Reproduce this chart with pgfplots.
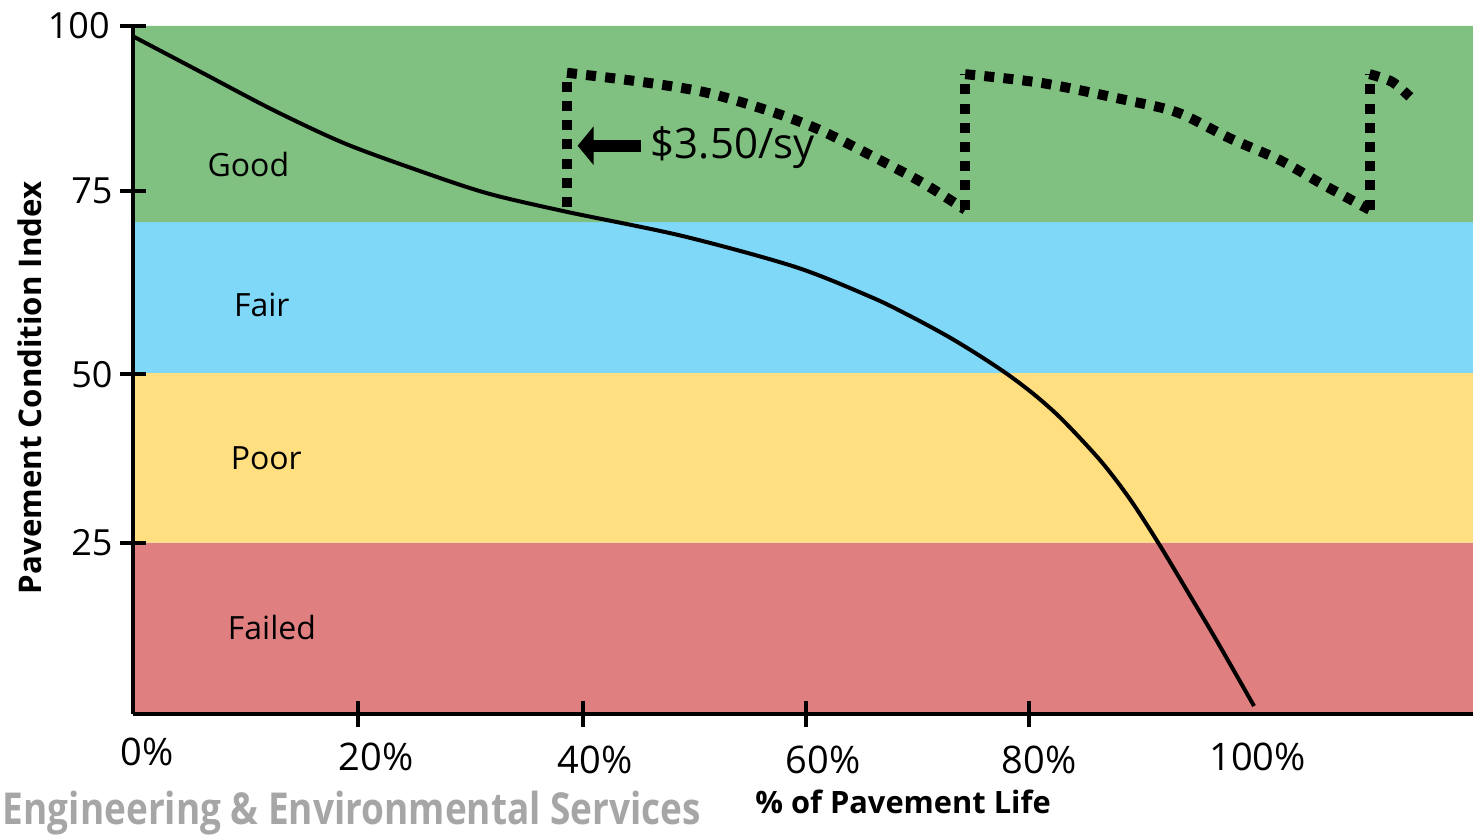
\documentclass[border=0pt]{standalone}
\usepackage{pgfplots}
\pgfplotsset{compat=1.18}
\usepackage{fontspec}
\setmainfont{Open Sans}
\usetikzlibrary{arrows.meta}
\definecolor{cgood}{HTML}{80C080}
\definecolor{cfair}{HTML}{80D8F8}
\definecolor{cpoor}{HTML}{FFDF80}
\definecolor{cfail}{HTML}{E07F80}
\definecolor{wmark}{HTML}{A6A6A6}
\begin{document}
\begin{tikzpicture}
\begin{axis}[
  at={(0,0)}, anchor=south west,
  scale only axis, width=670pt, height=344pt,
  xmin=0, xmax=119.64, ymin=0, ymax=100,
  axis x line=bottom, axis y line=left,
  axis line style={-, line width=2pt, black},
  xtick={20.1,40.2,60.1,80.0}, xticklabels={},
  ytick={24.9,49.4,76,100}, yticklabels={},
  tick align=center, major tick length=13pt,
  tick style={black, line width=2pt},
  axis on top, clip=false,
]
% bands
\addplot[draw=none, fill=cfail] coordinates {(0,0)(119.64,0)(119.64,24.9)(0,24.9)(0,0)};
\addplot[draw=none, fill=cpoor] coordinates {(0,24.9)(119.64,24.9)(119.64,49.6)(0,49.6)(0,24.9)};
\addplot[draw=none, fill=cfair] coordinates {(0,49.6)(119.64,49.6)(119.64,71.5)(0,71.5)(0,49.6)};
\addplot[draw=none, fill=cgood] coordinates {(0,71.5)(119.64,71.5)(119.64,100)(0,100)(0,71.5)};
% deterioration curve
\addplot[black, line width=2pt, smooth] coordinates {
 (0,98.5)(6.07,93.3)(12.5,87.8)(18.8,83.0)(25.3,79.1)(31.6,75.7)(38.7,73.0)
 (49.0,69.5)(59.1,65.0)(65.89,60.61)(69.38,57.85)(72.77,54.87)(75.63,52.03)
 (78.21,49.23)(80.63,46.21)(83.04,42.67)(86.43,36.73)(89.02,31.21)(91.52,24.93)
 (94.11,17.92)(96.70,10.81)(100.09,1.16)};
% preservation cycles (dotted)
\pgfplotsset{dotline/.style={black, line width=5pt, dash pattern=on 5pt off 4.6pt}}
\addplot[dotline] coordinates {(38.75,73.7)(38.75,93.2)};
\addplot[dotline, smooth] coordinates {
 (38.75,93.2)(45.3,91.9)(51.25,90.3)(57.1,87.5)(61.3,84.9)(66.1,81.0)(70.5,77.2)(74.3,73.3)};
\addplot[dotline] coordinates {(74.3,73.3)(74.3,93.0)};
\addplot[dotline, smooth] coordinates {
 (74.3,93.0)(81.2,91.7)(88.75,89.2)(93.3,87.4)(97.9,83.7)(102.4,80.5)(106.3,76.9)(110.4,73.3)};
\addplot[dotline] coordinates {(110.4,73.3)(110.4,93.0)};
\addplot[dotline, smooth] coordinates {
 (110.4,93.0)(112.4,91.9)(114.0,89.7)};
% arrow
\addplot[black, line width=6pt, -{Triangle[length=8pt,width=19pt]}] coordinates {(45.4,82.6)(39.7,82.6)};
\node[anchor=base west, inner sep=0pt, font=\fontsize{21}{25}\selectfont] at (axis cs:46.2,80.8) {\$3.50/sy};
% band labels
\node[inner sep=0pt, font=\fontsize{16}{19}\selectfont] at (axis cs:10.3,79.8) {Good};
\node[inner sep=0pt, font=\fontsize{16}{19}\selectfont] at (axis cs:11.5,59.4) {Fair};
\node[inner sep=0pt, font=\fontsize{16}{19}\selectfont] at (axis cs:11.9,37.2) {Poor};
\node[inner sep=0pt, font=\fontsize{16}{19}\selectfont] at (axis cs:12.4,12.6) {Failed};
% y tick labels
\node[anchor=east, inner sep=0pt, font=\fontsize{18}{21}\selectfont] at (axis cs:-2.05,100) {100};
\node[anchor=east, inner sep=0pt, font=\fontsize{18}{21}\selectfont] at (axis cs:-1.8,76) {75};
\node[anchor=east, inner sep=0pt, font=\fontsize{18}{21}\selectfont] at (axis cs:-1.8,49.4) {50};
\node[anchor=east, inner sep=0pt, font=\fontsize{18}{21}\selectfont] at (axis cs:-1.8,24.9) {25};
% x tick labels
\node[inner sep=0pt, font=\fontsize{19}{22}\selectfont] at (axis cs:1.25,-5.5) {0\%};
\node[inner sep=0pt, font=\fontsize{19}{22}\selectfont] at (axis cs:21.7,-6.25) {20\%};
\node[inner sep=0pt, font=\fontsize{19}{22}\selectfont] at (axis cs:41.25,-6.7) {40\%};
\node[inner sep=0pt, font=\fontsize{19}{22}\selectfont] at (axis cs:61.6,-6.7) {60\%};
\node[inner sep=0pt, font=\fontsize{19}{22}\selectfont] at (axis cs:80.9,-6.7) {80\%};
\node[inner sep=0pt, font=\fontsize{19}{22}\selectfont] at (axis cs:100.4,-6.25) {100\%};
% axis titles
\node[inner sep=0pt, font=\fontsize{15.4}{19}\selectfont\bfseries] at (axis cs:68.75,-12.8) {\% of Pavement Life};
\node[inner sep=0pt, rotate=90, font=\fontsize{15.6}{19}\selectfont\bfseries] at (axis cs:-9.2,47.4) {Pavement Condition Index};
% watermark
\node[anchor=base, inner sep=0pt, text=wmark] at (axis cs:19.55,-16.1) {\scalebox{0.84}[1]{\fontsize{22}{26}\selectfont\bfseries Engineering \& Environmental Services}};
\end{axis}
\pgfresetboundingbox
\path[use as bounding box] (-66.5pt,-61pt) rectangle (670pt,357pt);
\end{tikzpicture}
\end{document}
